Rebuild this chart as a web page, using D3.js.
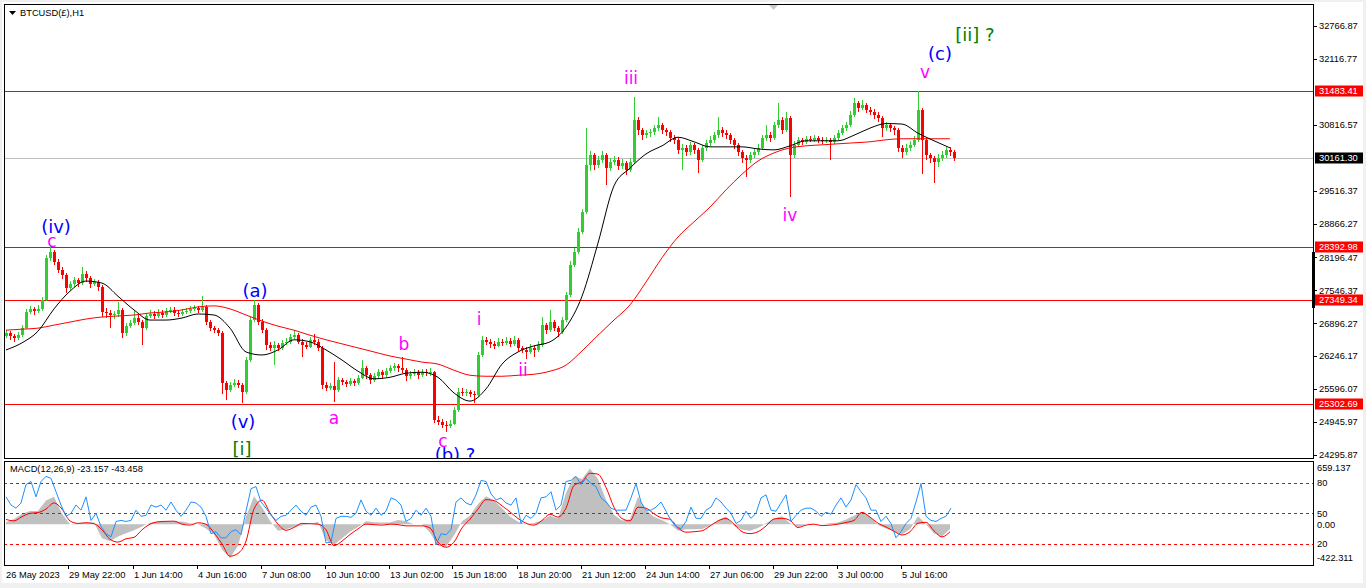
<!DOCTYPE html>
<html>
<head>
<meta charset="utf-8">
<script src="https://cdn.jsdelivr.net/npm/d3@7"></script>
<style>
  html, body { margin: 0; padding: 0; background: #fff; overflow: hidden; }
  svg { display: block; }
  text { font-family: "Liberation Sans", Arial, sans-serif; }
</style>
</head>
<body>
<svg id="chart" width="1366" height="588"></svg>
<script>
// BTCUSD(£) H1 - MT4 style chart with wave count and MACD window

// candles, one per 4 hourly bars (open = previous close)
const candleStep = 4;
const firstOpen = 26650;
const closes = [
  26700,26640,26600,26660,26800,27120,27180,27140,27180,27360,
  28190,28300,28110,27950,27850,27590,27670,27750,27690,27870,
  27790,27670,27710,27610,27120,27100,27060,27080,27160,26700,
  26840,26900,27000,26920,26800,27040,27080,27040,27100,27060,
  27140,27160,27100,27080,27120,27140,27180,27200,27160,27220,
  26920,26800,26760,26700,25720,25580,25680,25720,25680,25540,
  26170,26960,27260,26920,26760,26470,26410,26470,26410,26510,
  26530,26620,26660,26530,26470,26430,26570,26530,26410,25680,
  25620,25660,25580,25780,25740,25700,25760,25720,25820,26010,
  25870,25780,25850,25930,25870,25950,26010,26050,26010,25970,
  25850,25890,25930,25870,25930,25910,25930,24990,24950,24890,
  24870,24910,25180,25540,25520,25540,25500,25480,26270,26570,
  26530,26490,26450,26530,26510,26550,26490,26570,26410,26370,
  26330,26410,26370,26470,26860,26760,26920,26800,26720,26960,
  27450,28050,28300,28700,29090,30020,30220,30020,30120,30220,
  29960,30080,30120,30000,30060,29920,30080,30910,30710,30610,
  30650,30670,30750,30810,30710,30670,30560,30520,30320,30360,
  30280,30420,30320,30120,30360,30460,30520,30610,30710,30650,
  30610,30520,30420,30280,30160,30120,30220,30280,30360,30560,
  30610,30560,30810,30910,30710,30950,30220,30420,30520,30480,
  30540,30520,30560,30520,30500,30520,30480,30560,30650,30750,
  30810,31010,31250,31150,31210,31110,31070,31010,30950,30750,
  30810,30750,30710,30360,30280,30360,30420,30520,31110,30520,
  30220,30160,30080,30160,30220,30320,30280,30161.3
];
const highs = [
  26760,26750,26680,26720,26860,27180,27240,27220,27250,27420,
  28250,28420,28340,28160,28000,27880,27740,27820,27800,28010,
  27920,27830,27780,27760,27650,27200,27150,27140,27320,27200,
  26900,26960,27160,27050,26960,27100,27150,27130,27170,27150,
  27200,27220,27210,27150,27180,27200,27240,27260,27240,27430,
  27260,26960,26840,26800,26740,25760,25740,25800,25780,25720,
  26240,27020,27360,27300,26980,26800,26520,26540,26510,26570,
  26600,26680,26760,26700,26580,26520,26620,26680,26580,26440,
  25740,25720,26130,25840,25820,25780,25820,25800,25880,26170,
  26050,25910,25920,26000,25970,26010,26080,26120,26100,26230,
  26010,25960,26000,25980,26000,25990,26020,25960,25070,25000,
  24960,24990,25240,25620,25620,25600,25580,25560,26330,26640,
  26620,26580,26540,26600,26590,26620,26600,26640,26600,26450,
  26420,26480,26450,26540,27020,26900,27160,26960,26840,27020,
  27520,28120,28380,28780,29160,30750,30300,30260,30200,30290,
  30260,30160,30200,30180,30140,30100,30160,31360,30960,30760,
  30720,30740,30820,30970,30860,30760,30720,30620,30560,30440,
  30420,30480,30460,30360,30420,30520,30600,30680,30970,30780,
  30720,30660,30560,30460,30320,30220,30280,30340,30440,30620,
  30810,30680,30880,31250,30960,31070,30980,30500,30580,30560,
  30600,30590,30620,30600,30570,30580,30560,30620,30720,30820,
  30880,31080,31340,31290,31300,31250,31160,31120,31060,30990,
  30880,30860,30800,30750,30420,30440,30500,30600,31483,31150,
  30560,30260,30200,30240,30300,30380,30380,30320
];
const lows = [
  26600,26560,26520,26560,26620,26780,27080,27060,27100,27140,
  27330,28120,28040,27880,27780,27500,27550,27620,27620,27650,
  27720,27600,27630,27540,27020,27000,26800,26980,27030,26600,
  26650,26800,26860,26860,26470,26760,27000,26980,27000,27000,
  27020,27090,27040,27020,27040,27080,27100,27140,27100,27120,
  26860,26740,26700,26640,25500,25380,25540,25640,25620,25320,
  25500,26140,26920,26860,26700,26370,26350,26070,26340,26370,
  26460,26490,26580,26480,26230,26380,26400,26470,26350,25600,
  25560,25580,25340,25540,25680,25640,25660,25660,25680,25790,
  25800,25700,25740,25800,25800,25830,25910,25960,25940,25920,
  25760,25800,25850,25800,25830,25850,25860,24920,24880,24820,
  24750,24830,24880,25150,25460,25470,25440,25320,25450,26230,
  26470,26400,26380,26420,26450,26470,26430,26450,26340,26300,
  26200,26290,26230,26330,26430,26680,26720,26740,26620,26680,
  26920,27420,28000,28260,28660,29060,29900,29920,29960,30060,
  29630,29900,30020,29920,29950,29820,29880,30040,30620,30520,
  30550,30580,30620,30700,30640,30600,30480,30440,30240,29920,
  30200,30220,30240,29860,30080,30300,30400,30460,30560,30580,
  30540,30440,30340,30200,30060,29780,30060,30160,30220,30320,
  30500,30480,30520,30760,30640,30680,29390,30160,30380,30420,
  30440,30470,30480,30460,30440,30450,30120,30430,30520,30610,
  30700,30770,30960,31060,31100,31040,31000,30940,30880,30575,
  30700,30680,30620,30280,30160,30220,30300,30380,30480,29840,
  30120,30060,29660,29980,30100,30160,30200,30100
];

// moving averages, sampled every 16 bars
const maStep = 16;
const maFast = [
  26370,26510,26740,27180,27530,27730,27690,27430,27160,26960,
  26960,27000,27080,27060,26800,26330,26270,26370,26570,26530,
  26370,26170,25950,25800,25830,25910,25930,25830,25520,25360,
  25600,26090,26330,26450,26530,26820,27430,28480,29610,29960,
  30240,30400,30570,30480,30380,30380,30380,30340,30320,30400,
  30500,30500,30500,30610,30750,30840,30830,30650,30500,30360
];
const maSlow = [
  26760,26780,26800,26860,26920,26980,27020,27040,27060,27100,
  27120,27160,27220,27240,27180,27060,26940,26840,26760,26660,
  26570,26490,26410,26330,26250,26190,26130,26090,25970,25870,
  25850,25850,25870,25890,25950,26070,26350,26660,26960,27260,
  27710,28190,28600,28900,29190,29530,29840,30100,30260,30360,
  30400,30420,30440,30460,30480,30520,30540,30540,30540,30540
];

// horizontal levels
const resistLevels = [31483.41, 28392.98, 27349.34, 25302.69];
const lastPrice = 30161.30;
const priceTicks = [32766.87, 32116.77, 30816.57, 29516.37, 28866.27, 28196.47,
  27546.37, 26896.27, 26246.17, 25596.07, 24945.97, 24295.87];

// wave count
const labelTexts  = ['(iv)', 'c', '(a)', '(v)', '[i]', 'a', 'b', 'c', '(b) ?', 'i', 'ii', 'iii', 'iv', 'v', '(c)', '[ii] ?'];
const labelBars   = [50, 46, 249, 237, 236, 328, 398, 437, 449, 473, 517, 625, 784, 919, 934, 969];
const labelPrices = [28680, 28400, 27415, 24829, 24295, 24908, 26369, 24454, 24170, 26862, 25856, 31621, 28916, 31740, 32095, 32470];
const labelDegree = ['minor', 'minute', 'minor', 'minor', 'inter', 'minute', 'minute', 'minute', 'minor',
  'minute', 'minute', 'minute', 'minute', 'minute', 'minor', 'inter'];

// MACD histogram and signal, every 8 bars
const macdStep = 8;
const macdMain = [
  20,55,110,140,140,250,290,110,0,10,
  17,17,-150,-180,-130,-95,-65,-25,15,25,
  28,28,28,10,0,-45,-110,-270,-360,-230,
  80,295,180,35,-70,-55,-30,-15,0,25,
  -170,-220,-150,-80,-30,30,20,17,17,45,
  30,0,0,-90,-230,-240,-120,30,90,215,
  295,250,170,80,25,0,12,40,88,60,
  330,508,480,590,480,260,100,40,53,290,
  150,75,45,0,-70,-55,-53,-50,-18,40,
  85,-20,-58,-70,-40,10,60,85,10,-30,
  0,0,0,10,17,50,90,135,80,-10,
  -45,-75,-110,-53,85,0,-100,-130,-50
];
const macdSignal = [
  50,35,80,115,123,160,225,160,35,8,
  15,5,-60,-160,-190,-155,-140,-60,0,25,
  30,32,0,-10,15,0,-90,-210,-340,-310,
  -180,160,255,120,0,-65,-35,8,5,0,
  -60,-228,-180,-110,-50,0,-5,-10,0,-5,
  -18,-18,-18,-40,-190,-245,-190,-40,53,160,
  260,250,195,130,60,10,-10,40,105,75,
  170,410,450,540,530,390,180,60,35,180,
  170,110,65,53,-40,-85,-80,-70,-20,35,
  60,0,-80,-100,-80,-20,55,62,40,-35,
  -10,0,-15,-10,0,18,40,125,75,10,
  -30,-75,-115,-80,10,20,-70,-135,-80
];
const macdRange = [-422.311, 659.137];

// oscillator drawn in the same window (0-100), every 5 bars
const oscStep = 5;
const oscValues = [
  66,58,55,60,78,81,66,81,86,84, 71,58,47,50,58,53,66,43,50,37,
  30,27,42,43,42,43,53,47,48,58, 56,58,53,61,53,47,53,61,60,56,
  47,30,32,26,26,32,34,29,52,74, 76,61,55,48,43,47,48,53,58,52,
  48,56,58,47,21,22,45,47,47,46, 50,63,52,48,55,48,52,65,63,58,
  42,45,53,48,55,47,19,30,29,34, 61,65,60,58,68,
  82,81,69,63,65,60,58,65,40,48, 45,50,65,66,71,53,58,81,82,86,
  78,84,79,76,65,61,55,53,53,53, 65,79,61,53,53,56,61,52,43,37,
  35,42,56,45,45,53,56,65,61,55, 50,40,43,52,45,50,65,68,53,52,
  60,68,42,48,53,55,55,52,47,51, 49,58,65,56,63,78,71,65,53,53,
  42,47,40,26,32,40,45,61,79,47, 43,42,45,47,55
];
const oscLevels = [80, 50, 20];

// time axis
const timeLabels = ['26 May 2023', '29 May 22:00', '1 Jun 14:00', '4 Jun 16:00', '7 Jun 08:00',
  '10 Jun 10:00', '13 Jun 02:00', '15 Jun 18:00', '18 Jun 20:00', '21 Jun 12:00', '24 Jun 14:00',
  '27 Jun 06:00', '29 Jun 22:00', '3 Jul 00:00', '5 Jul 16:00'];
const timeBars = [-1, 62, 127, 191, 255, 319, 383, 446, 511, 575, 639, 703, 767, 831, 895];

(function() {
  const svg = d3.select('#chart');
  const W = 1366, H = 588;
  const left = 4, right = 1313;
  const mainTop = 4, mainBottom = 458;
  const subTop = 461, subBottom = 565;

  const colors = { up: '#32CD32', down: '#FF0000', minor: '#0000FF', minute: '#FF00FF', inter: '#008000' };

  // scales
  const x = d3.scaleLinear().domain([0, 948]).range([6, 954]);
  const y = d3.scaleLinear().domain([24236, 33201]).range([mainBottom, mainTop]);
  const yMacd = d3.scaleLinear().domain(macdRange).range([subBottom - 1, subTop + 1]);
  const yOsc = d3.scaleLinear().domain([0, 100]).range([subBottom - 0.5, subTop + 1]);

  // window frame
  svg.append('rect').attr('width', W).attr('height', H).attr('fill', '#F0F0F0');
  svg.append('rect').attr('x', 2).attr('y', 2).attr('width', 1361).attr('height', 581).attr('fill', '#fff');

  svg.append('clipPath').attr('id', 'clipMain')
    .append('rect').attr('x', left + 1).attr('y', mainTop + 1)
    .attr('width', right - left - 1).attr('height', mainBottom - mainTop - 1);
  svg.append('clipPath').attr('id', 'clipSub')
    .append('rect').attr('x', left + 1).attr('y', subTop + 1)
    .attr('width', right - left - 1).attr('height', subBottom - subTop - 1);

  const main = svg.append('g').attr('clip-path', 'url(#clipMain)');

  // horizontal levels
  main.selectAll('.level')
    .data(resistLevels)
    .enter()
    .append('line')
    .attr('x1', left).attr('x2', right)
    .attr('y1', d => Math.round(y(d)) + 0.5).attr('y2', d => Math.round(y(d)) + 0.5)
    .attr('stroke', '#FF0000');
  main.append('line')
    .attr('x1', left).attr('x2', right)
    .attr('y1', Math.round(y(lastPrice)) + 0.5).attr('y2', Math.round(y(lastPrice)) + 0.5)
    .attr('stroke', '#C0C0C0');

  // candles
  const candles = closes.map((c, i) => ({
    i: i,
    o: i === 0 ? firstOpen : closes[i - 1],
    c: c,
    h: highs[i],
    l: lows[i]
  }));

  const cg = main.append('g').attr('shape-rendering', 'crispEdges');
  cg.selectAll('.wick')
    .data(candles)
    .enter()
    .append('rect')
    .attr('x', d => Math.round(x(d.i * candleStep)))
    .attr('width', 1)
    .attr('y', d => y(d.h))
    .attr('height', d => Math.max(1, y(d.l) - y(d.h)))
    .attr('fill', d => d.c >= d.o ? colors.up : colors.down);
  cg.selectAll('.body')
    .data(candles)
    .enter()
    .append('rect')
    .attr('x', d => Math.round(x(d.i * candleStep)) - 1)
    .attr('width', 3)
    .attr('y', d => y(Math.max(d.o, d.c)))
    .attr('height', d => Math.max(1, Math.abs(y(d.o) - y(d.c))))
    .attr('fill', d => d.c >= d.o ? colors.up : colors.down);

  // moving averages
  const maLine = d3.line()
    .x((d, i) => x(i * maStep))
    .y(d => y(d))
    .curve(d3.curveMonotoneX);
  main.append('path').datum(maSlow).attr('d', maLine)
    .attr('fill', 'none').attr('stroke', '#FF0000').attr('stroke-width', 1);
  main.append('path').datum(maFast).attr('d', maLine)
    .attr('fill', 'none').attr('stroke', '#000').attr('stroke-width', 1);

  // wave labels
  main.selectAll('.wave')
    .data(labelTexts)
    .enter()
    .append('text')
    .attr('x', (d, i) => x(labelBars[i]))
    .attr('y', (d, i) => y(labelPrices[i]))
    .attr('text-anchor', 'middle')
    .style('font-family', '"DejaVu Sans", Verdana, sans-serif')
    .style('font-size', (d, i) => labelDegree[i] === 'minute' ? '17px' : '18px')
    .style('fill', (d, i) => colors[labelDegree[i]])
    .text(d => d);

  // symbol caption
  svg.append('path').attr('d', 'M9,11 L16,11 L12.5,15 Z').attr('fill', '#000');
  svg.append('text').attr('x', 20).attr('y', 16)
    .style('font-size', '9.3px').style('fill', '#000')
    .text('BTCUSD(£),H1');
  svg.append('path').attr('d', 'M769,5 L778,5 L773.5,10 Z').attr('fill', '#C8C8C8');

  // indicator window
  const sub = svg.append('g').attr('clip-path', 'url(#clipSub)');
  const histArea = d3.area()
    .x((d, i) => x(i * macdStep))
    .y0(yMacd(0))
    .y1(d => yMacd(d));
  sub.append('path').datum(macdMain).attr('d', histArea).attr('fill', '#C0C0C0');

  sub.selectAll('.osc-level')
    .data(oscLevels)
    .enter()
    .append('line')
    .attr('x1', left).attr('x2', right)
    .attr('y1', d => Math.round(yOsc(d)) + 0.5).attr('y2', d => Math.round(yOsc(d)) + 0.5)
    .attr('stroke', '#FF0000')
    .attr('stroke-dasharray', '3,3');

  sub.append('path').datum(macdSignal)
    .attr('d', d3.line().x((d, i) => x(i * macdStep)).y(d => yMacd(d)).curve(d3.curveMonotoneX))
    .attr('fill', 'none').attr('stroke', '#FF0000').attr('stroke-width', 1);

  sub.append('path').datum(oscValues)
    .attr('d', d3.line().x((d, i) => x(i * oscStep)).y(d => yOsc(d)))
    .attr('fill', 'none').attr('stroke', '#1E90FF').attr('stroke-width', 1);

  svg.append('text').attr('x', 10).attr('y', 472)
    .style('font-size', '9.3px').style('fill', '#000')
    .text('MACD(12,26,9) -23.157 -43.458');

  // panel borders
  [[mainTop, mainBottom], [subTop, subBottom]].forEach(p => {
    svg.append('rect')
      .attr('x', left + 0.5).attr('y', p[0] + 0.5)
      .attr('width', right - left).attr('height', p[1] - p[0])
      .attr('fill', 'none').attr('stroke', '#000');
  });
  svg.append('rect').attr('x', right - 1).attr('y', 252).attr('width', 3).attr('height', 56).attr('fill', '#000');

  // price axis
  const pa = svg.append('g');
  pa.selectAll('.ptick')
    .data(priceTicks)
    .enter()
    .append('line')
    .attr('x1', right).attr('x2', right + 4)
    .attr('y1', d => Math.round(y(d)) + 0.5).attr('y2', d => Math.round(y(d)) + 0.5)
    .attr('stroke', '#000');
  pa.selectAll('.plabel')
    .data(priceTicks)
    .enter()
    .append('text')
    .attr('x', right + 6)
    .attr('y', d => y(d))
    .attr('dy', '0.35em')
    .style('font-size', '9.3px')
    .style('fill', '#000')
    .text(d => d.toFixed(2));

  const tags = resistLevels.map(v => ({ v: v, bg: '#FF0000' }))
    .concat([{ v: lastPrice, bg: '#000' }]);
  const tagG = pa.selectAll('.tag').data(tags).enter().append('g')
    .attr('transform', d => `translate(${right + 2}, ${Math.round(y(d.v))})`);
  tagG.append('rect').attr('x', 0).attr('y', -5.5).attr('width', 48).attr('height', 11)
    .attr('fill', d => d.bg);
  tagG.append('text').attr('x', 4).attr('y', 0).attr('dy', '0.35em')
    .style('font-size', '9.3px').style('fill', '#fff')
    .text(d => d.v.toFixed(2));

  // indicator axis
  const subLabels = [
    { t: '659.137', py: yMacd(macdRange[1]) + 6 },
    { t: '80', py: yOsc(80) },
    { t: '50', py: yOsc(50) },
    { t: '0.00', py: yMacd(0) + 1 },
    { t: '20', py: yOsc(20) },
    { t: '-422.311', py: yMacd(macdRange[0]) - 6 }
  ];
  svg.selectAll('.slabel')
    .data(subLabels)
    .enter()
    .append('text')
    .attr('x', right + 4)
    .attr('y', d => d.py)
    .attr('dy', '0.35em')
    .style('font-size', '9.3px')
    .style('fill', '#000')
    .text(d => d.t);

  // time axis
  const ta = svg.append('g');
  ta.selectAll('.ttick')
    .data(timeBars.slice(1))
    .enter()
    .append('line')
    .attr('x1', d => Math.round(x(d)) + 0.5).attr('x2', d => Math.round(x(d)) + 0.5)
    .attr('y1', subBottom).attr('y2', subBottom + 4)
    .attr('stroke', '#000');
  ta.selectAll('.tlabel')
    .data(timeLabels)
    .enter()
    .append('text')
    .attr('x', (d, i) => Math.round(x(timeBars[i])) + 1)
    .attr('y', 578)
    .style('font-size', '9.3px')
    .style('fill', '#000')
    .text(d => d);
})();
</script>
</body>
</html>
